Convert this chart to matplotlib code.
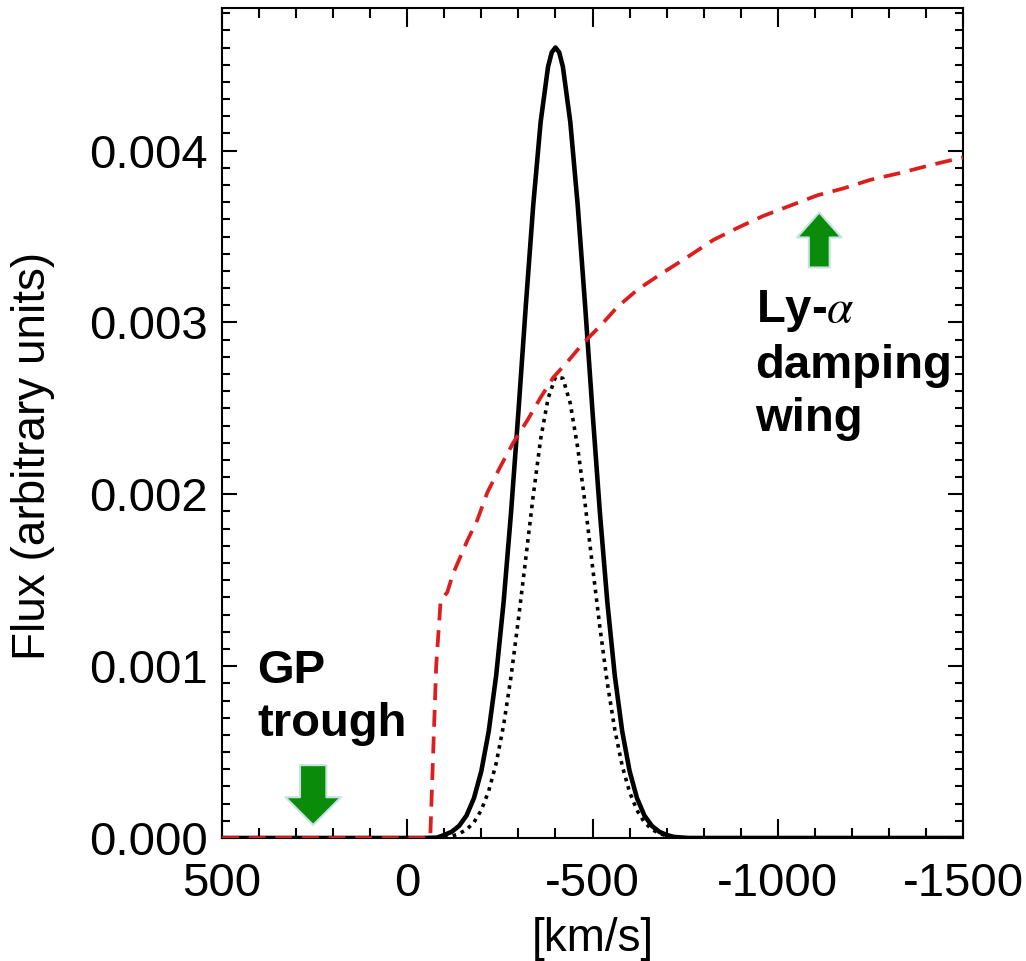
import matplotlib
matplotlib.use('Agg')
import matplotlib.pyplot as plt
from matplotlib.ticker import MultipleLocator

plt.rcParams['font.family'] = ['Liberation Sans', 'DejaVu Sans']
plt.rcParams['mathtext.fontset'] = 'stix'
plt.rcParams['axes.unicode_minus'] = False

# intrinsic line (solid)
line_v = [500, -40, -80, -100, -120, -140, -160, -180, -200, -220, -240, -260, -280,
          -300, -320, -340, -360, -380, -390, -400, -410, -420, -440, -460, -480,
          -500, -520, -540, -560, -580, -600, -620, -640, -660, -680, -700, -720,
          -760, -1500]
line_flux = [0.0, 0.0, 0.000002, 0.0000177, 0.0000364, 0.0000708, 0.000131, 0.000232,
             0.000390, 0.000623, 0.000947, 0.001372, 0.001891, 0.002481, 0.003099,
             0.003683, 0.004167, 0.004488, 0.004572, 0.004600, 0.004572, 0.004488,
             0.004167, 0.003683, 0.003099, 0.002481, 0.001891, 0.001372, 0.000947,
             0.000623, 0.000390, 0.000232, 0.000131, 0.0000708, 0.0000364, 0.0000177,
             0.000006, 0.0, 0.0]

# observed line after IGM (dotted)
obs_v = [-100, -120, -140, -160, -180, -200, -220, -240, -260, -280, -300, -320,
         -340, -360, -380, -400, -420, -440, -460, -480, -500, -520, -540, -560,
         -580, -600, -620, -640, -660, -680, -700, -720, -740]
obs_flux = [0.0, 0.000010, 0.000025, 0.000049, 0.000091, 0.000163, 0.000275,
            0.000435, 0.000656, 0.000938, 0.001273, 0.001630, 0.001993, 0.002321,
            0.002558, 0.002682, 0.002675, 0.002529, 0.002272, 0.001946, 0.001580,
            0.001225, 0.000901, 0.000632, 0.000421, 0.000267, 0.000161, 0.000092,
            0.000050, 0.000026, 0.000013, 0.000006, 0.0]

# damping wing (red dashed)
wing_v = [500, -62, -78, -90, -108, -124, -162, -189, -216, -251, -286, -324, -359,
          -394, -432, -475, -521, -567, -621, -683, -756, -826, -891, -961, -1034,
          -1107, -1177, -1250, -1331, -1420, -1500]
wing_flux = [0.0, 0.0, 0.00100, 0.00138, 0.00143, 0.00154, 0.00173, 0.00185, 0.00201,
             0.00216, 0.00230, 0.00243, 0.00256, 0.00268, 0.00277, 0.00288, 0.00298,
             0.00309, 0.00319, 0.00328, 0.00338, 0.00348, 0.00355, 0.00362, 0.00368,
             0.00374, 0.00378, 0.00383, 0.00387, 0.00392, 0.00396]

fig = plt.figure(figsize=(10.26, 9.61), dpi=100)
ax = fig.add_axes([0.2164, 0.128, 0.7222, 0.8637])

ax.plot(line_v, line_flux, color='black', lw=3.3, solid_joinstyle='round', zorder=3)
ax.plot(obs_v, obs_flux, color='black', lw=2.6, linestyle=(0, (1, 1.4)), zorder=3)
ax.plot(wing_v, wing_flux, color='#dc1e1e', lw=2.7, linestyle=(0, (4.5, 2.6)), zorder=4)

ax.set_xlim(500, -1500)
ax.set_ylim(0, 0.00483)
ax.xaxis.set_major_locator(MultipleLocator(500))
ax.xaxis.set_minor_locator(MultipleLocator(100))
ax.yaxis.set_major_locator(MultipleLocator(0.001))
ax.yaxis.set_minor_locator(MultipleLocator(0.0001))
ax.yaxis.set_major_formatter(plt.FuncFormatter(lambda y, p: '%.3f' % y))
ax.tick_params(which='both', direction='in', top=True, right=True, width=1.5,
               labelsize=34, colors='black')
ax.tick_params(axis='x', which='major', length=13.5, pad=17)
ax.tick_params(axis='x', which='minor', length=7)
ax.tick_params(axis='y', which='major', length=11, pad=10)
ax.tick_params(axis='y', which='minor', length=6)
for s in ax.spines.values():
    s.set_linewidth(1.5)

ax.set_xlabel('[km/s]', fontsize=33, labelpad=8)
ax.set_ylabel('Flux (arbitrary units)', fontsize=33)
ax.yaxis.set_label_coords(-0.226, 0.46)

ax.text(405, 0.000593, 'GP\ntrough', fontsize=34, fontweight='bold', ha='left',
        va='baseline', linespacing=1.27)
ax.text(-940, 0.00237, 'Ly-$\\alpha$\ndamping\nwing', fontsize=34, fontweight='bold',
        ha='left', va='baseline', linespacing=1.27)

arrow_style = dict(arrowstyle='simple,head_length=2.0,head_width=4.0,tail_width=1.9',
                   mutation_scale=10, facecolor='#0a8c0a', edgecolor='#c6e2e2',
                   lw=1.5, shrinkA=0, shrinkB=0)
ax.annotate('', xy=(254, 0.0000756), xytext=(254, 0.000424), arrowprops=arrow_style)
ax.annotate('', xy=(-1112, 0.00364), xytext=(-1112, 0.00332),
            arrowprops=dict(arrow_style, arrowstyle='simple,head_length=1.8,head_width=3.2,tail_width=1.5'))

fig.savefig('out.png', dpi=100)
